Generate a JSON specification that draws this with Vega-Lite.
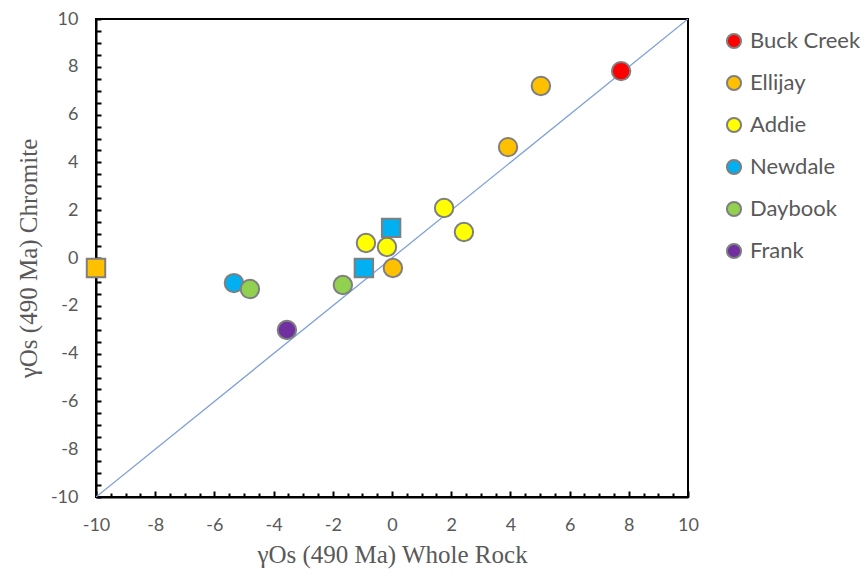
{
  "$schema": "https://vega.github.io/schema/vega-lite/v6.json",
  "width": 592,
  "height": 478,
  "autosize": "none",
  "padding": {"left": 96, "top": 19, "right": 177, "bottom": 82},
  "background": "white",
  "config": {
    "view": {"stroke": "black", "strokeWidth": 2},
    "axis": {"grid": false, "labelFont": "Lato", "labelFontSize": 18, "labelColor": "#595959", "labelFlush": false, "labelOverlap": false, "domainColor": "black", "domainWidth": 2, "tickColor": "black", "tickWidth": 2, "titleFont": "Liberation Serif", "titleFontWeight": "normal", "titleColor": "#595959", "titleFontSize": 25}
  },
  "datasets": {
    "pts": [
      {"site": "Buck Creek", "wr": 7.74, "chr": 7.82, "kind": "circle"},
      {"site": "Ellijay", "wr": 5.03, "chr": 7.2, "kind": "circle"},
      {"site": "Ellijay", "wr": 3.92, "chr": 4.64, "kind": "circle"},
      {"site": "Ellijay", "wr": 0.03, "chr": -0.42, "kind": "circle"},
      {"site": "Ellijay", "wr": -10, "chr": -0.42, "kind": "square"},
      {"site": "Newdale", "wr": -5.34, "chr": -1.05, "kind": "circle"},
      {"site": "Newdale", "wr": -0.95, "chr": -0.42, "kind": "square"},
      {"site": "Newdale", "wr": -0.03, "chr": 1.26, "kind": "square"},
      {"site": "Addie", "wr": 1.76, "chr": 2.09, "kind": "circle"},
      {"site": "Addie", "wr": 2.43, "chr": 1.09, "kind": "circle"},
      {"site": "Addie", "wr": -0.88, "chr": 0.63, "kind": "circle"},
      {"site": "Addie", "wr": -0.17, "chr": 0.46, "kind": "circle"},
      {"site": "Daybook", "wr": -4.8, "chr": -1.3, "kind": "circle"},
      {"site": "Daybook", "wr": -1.66, "chr": -1.13, "kind": "circle"},
      {"site": "Frank", "wr": -3.55, "chr": -3.01, "kind": "circle"}
    ],
    "line": [
      {"wr": -10, "chr": -10},
      {"wr": 10, "chr": 10}
    ]
  },
  "layer": [
    {
      "data": {"name": "line"},
      "mark": {"type": "line", "color": "#7FA0D8", "strokeWidth": 1.3, "clip": true},
      "encoding": {
        "x": {"field": "wr", "type": "quantitative", "scale": {"domain": [-10, 10], "nice": false, "zero": false},
          "axis": {"orient": "bottom", "values": [-9.5,-9,-8.5,-7.5,-7,-6.5,-5.5,-5,-4.5,-3.5,-3,-2.5,-1.5,-1,-0.5,0.5,1,1.5,2.5,3,3.5,4.5,5,5.5,6.5,7,7.5,8.5,9,9.5], "labels": false, "domain": false, "tickSize": -4, "title": null}},
        "y": {"field": "chr", "type": "quantitative", "scale": {"domain": [-10, 10], "nice": false, "zero": false},
          "axis": {"orient": "left", "values": [-9.5,-9,-8.5,-7.5,-7,-6.5,-5.5,-5,-4.5,-3.5,-3,-2.5,-1.5,-1,-0.5,0.5,1,1.5,2.5,3,3.5,4.5,5,5.5,6.5,7,7.5,8.5,9,9.5], "labels": false, "domain": false, "tickSize": -5, "title": null}}
      }
    },
    {
      "data": {"name": "pts"},
      "mark": {"type": "point", "filled": true, "stroke": "#7F7F7F", "strokeWidth": 2, "opacity": 1, "size": 340},
      "encoding": {
        "x": {"field": "wr", "type": "quantitative", "scale": {"domain": [-10, 10], "nice": false, "zero": false},
          "axis": {"orient": "bottom", "values": [-10,-8,-6,-4,-2,0,2,4,6,8,10], "labelExpr": "replace(datum.label, '\u2212', '-')", "tickSize": -6, "labelPadding": 25, "title": "γOs (490 Ma) Whole Rock", "titlePadding": 8}},
        "y": {"field": "chr", "type": "quantitative", "scale": {"domain": [-10, 10], "nice": false, "zero": false},
          "axis": {"orient": "left", "values": [-10,-8,-6,-4,-2,0,2,4,6,8,10], "labelExpr": "replace(datum.label, '\u2212', '-')", "tickSize": -5, "labelPadding": 23, "title": "γOs (490 Ma) Chromite", "titlePadding": 9}},
        "color": {"field": "site", "type": "nominal",
          "scale": {"domain": ["Buck Creek", "Ellijay", "Addie", "Newdale", "Daybook", "Frank"], "range": ["#FF0000", "#FFC000", "#FFFF00", "#00B0F0", "#92D050", "#7030A0"]},
          "legend": {"title": null, "orient": "none", "legendX": 627, "legendY": 11, "symbolType": "circle", "symbolSize": 200, "symbolStrokeColor": "#7F7F7F", "symbolStrokeWidth": 2, "labelFont": "Lato", "labelFontSize": 22, "labelColor": "#595959", "rowPadding": 18, "labelOffset": 5}},
        "shape": {"field": "kind", "type": "nominal", "scale": {"domain": ["circle", "square"], "range": ["circle", "square"]}, "legend": null}
      }
    }
  ],
  "resolve": {"axis": {"x": "independent", "y": "independent"}}
}
